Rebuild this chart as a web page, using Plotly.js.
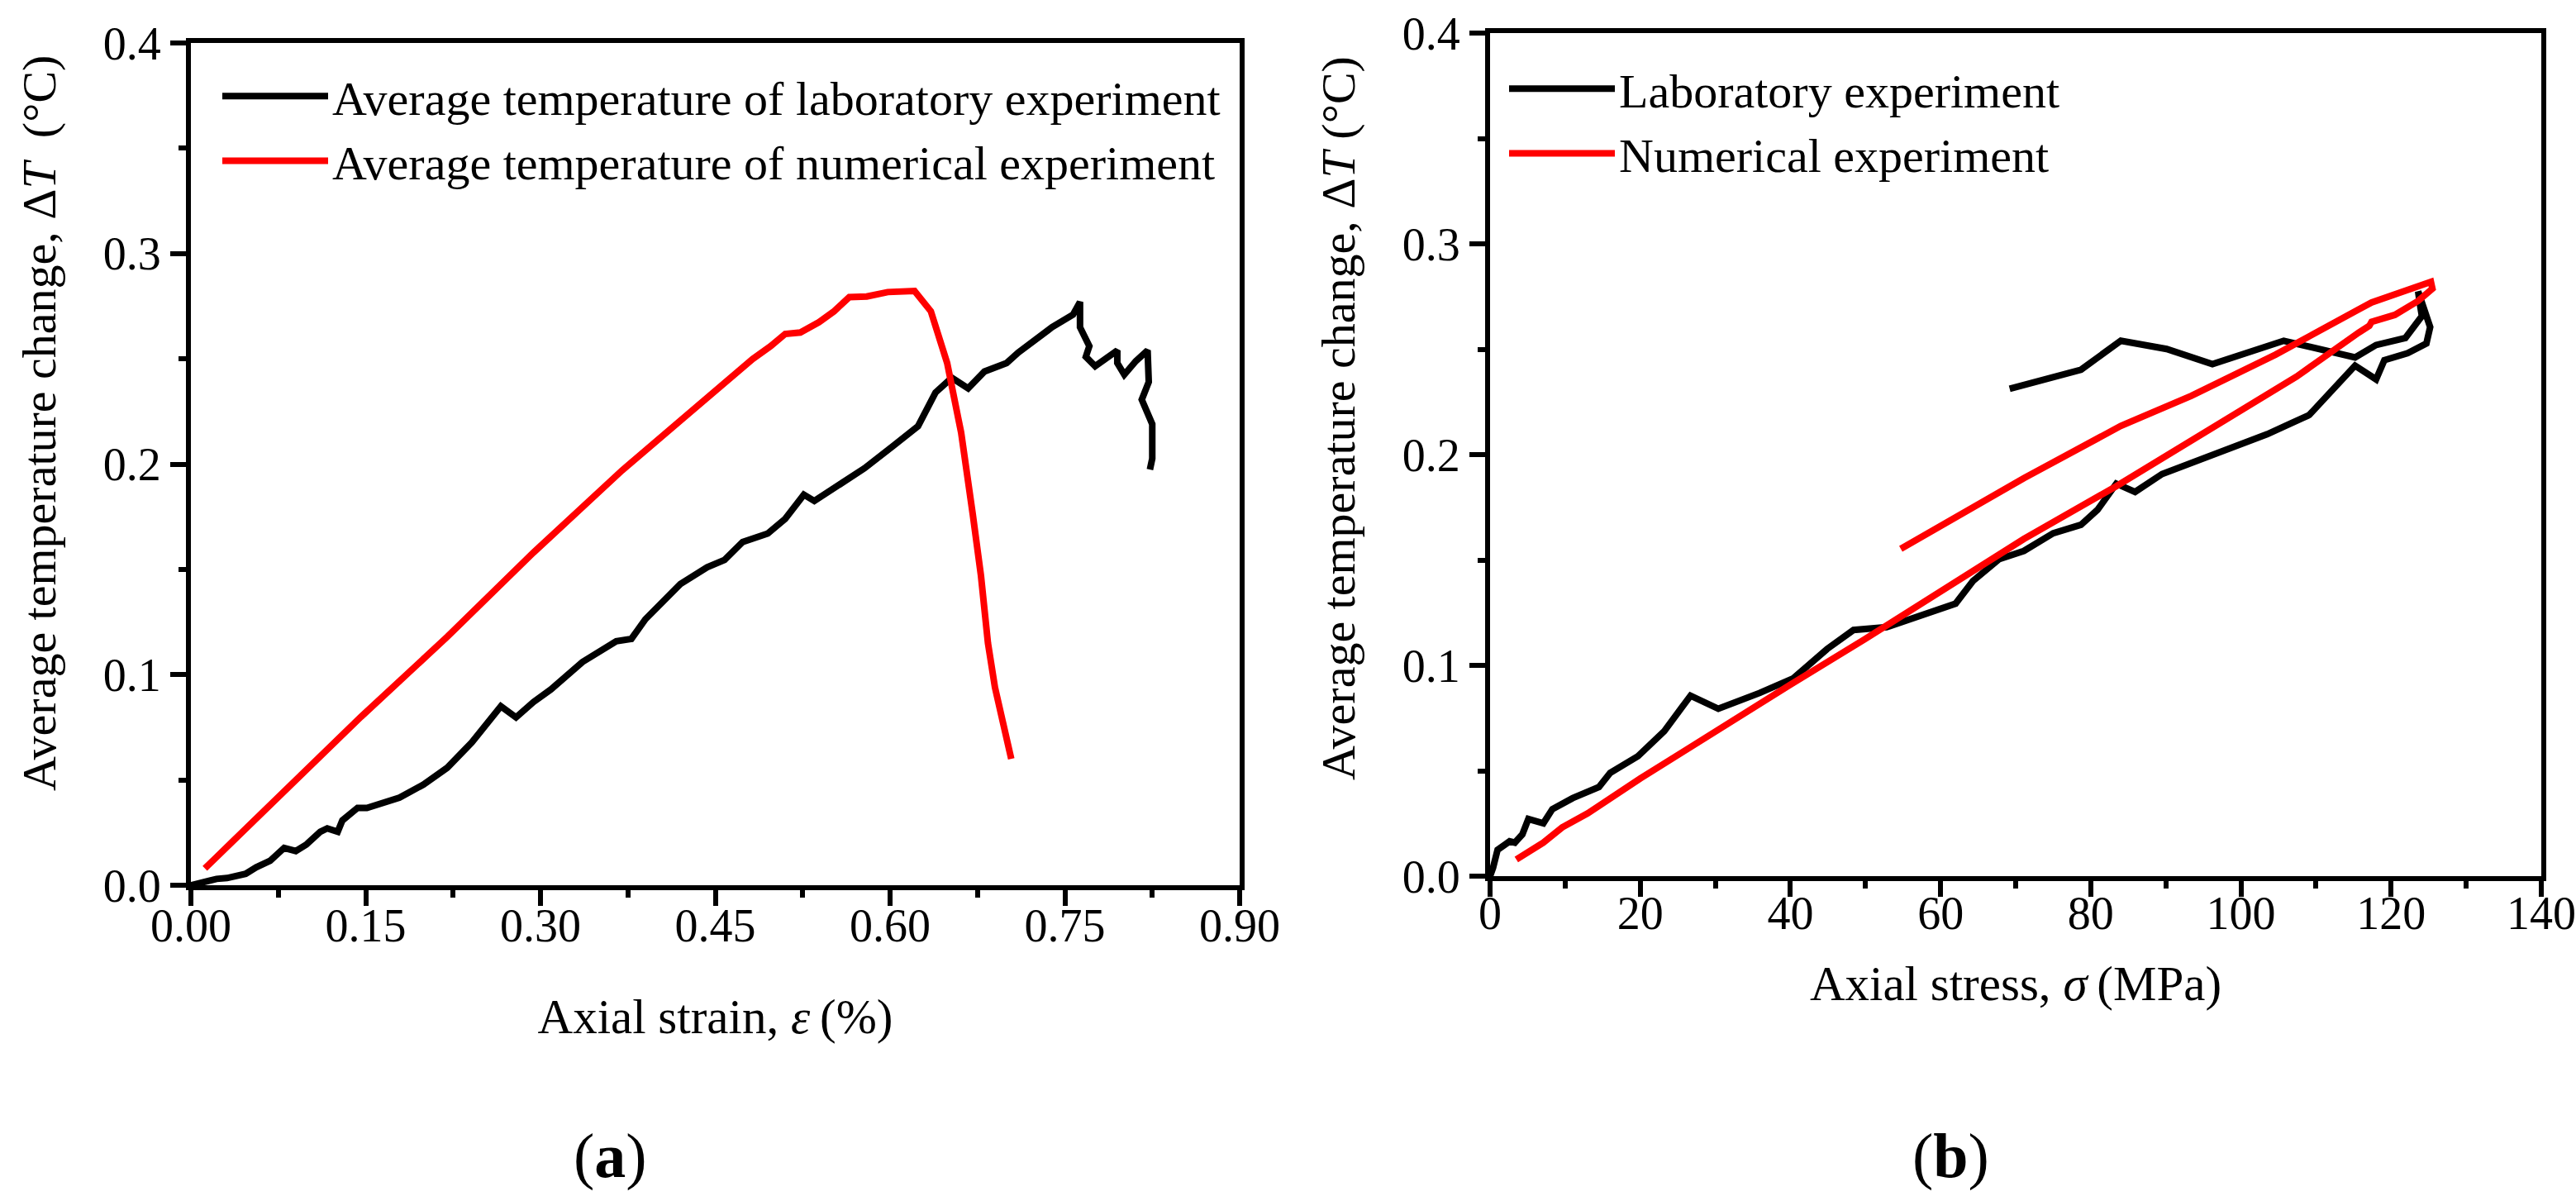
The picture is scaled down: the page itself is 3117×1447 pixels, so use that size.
<!DOCTYPE html>
<html>
<head>
<meta charset="utf-8">
<script src="https://cdn.plot.ly/plotly-3.0.1.min.js"></script>
<style>
  html, body { margin: 0; padding: 0; background: #fff; }
  #chart { width: 3117px; height: 1447px; }
</style>
</head>
<body>
<div id="chart"></div>
<script>
// (a) temperature change vs axial strain
const labStrain = [0, 0.022, 0.031, 0.047, 0.056, 0.068, 0.080, 0.090, 0.099, 0.111, 0.117, 0.126, 0.130, 0.143, 0.151,
  0.179, 0.1995, 0.220, 0.241, 0.266, 0.279, 0.294, 0.309, 0.336, 0.365, 0.378, 0.390, 0.420, 0.443, 0.458, 0.4735,
  0.495, 0.510, 0.526, 0.535, 0.557, 0.578, 0.603, 0.624, 0.639, 0.653, 0.667, 0.681, 0.700, 0.710, 0.739, 0.757,
  0.763, 0.763, 0.771, 0.768, 0.776, 0.788, 0.795, 0.795, 0.801, 0.811, 0.821, 0.822, 0.816, 0.825, 0.825, 0.823];
const labTempA = [0, 0.003, 0.0034, 0.0054, 0.0085, 0.0116, 0.0177, 0.0162, 0.0193, 0.0254, 0.027, 0.0254, 0.0308, 0.0367, 0.0367,
  0.0416, 0.0478, 0.0558, 0.0678, 0.085, 0.0797, 0.087, 0.093, 0.106, 0.1159, 0.117, 0.1263, 0.143, 0.151, 0.1545, 0.163,
  0.167, 0.174, 0.1855, 0.1825, 0.190, 0.198, 0.2088, 0.218, 0.234, 0.241, 0.236, 0.244, 0.248, 0.253, 0.265, 0.271,
  0.277, 0.265, 0.256, 0.251, 0.2465, 0.251, 0.254, 0.248, 0.2425, 0.249, 0.254, 0.239, 0.2306, 0.219, 0.2026, 0.1974];

const numStrain = [0.012, 0.070, 0.146, 0.220, 0.294, 0.370, 0.443, 0.4636, 0.482, 0.4975, 0.510, 0.523, 0.539, 0.552,
  0.565, 0.580, 0.598, 0.621, 0.635, 0.649, 0.661, 0.671, 0.678, 0.684, 0.690, 0.697, 0.704];
const numTempA = [0.008, 0.0393, 0.080, 0.118, 0.158, 0.197, 0.2315, 0.242, 0.2499, 0.256, 0.2618, 0.2625, 0.2674, 0.2726,
  0.2793, 0.2796, 0.2817, 0.2822, 0.2726, 0.248, 0.2149, 0.176, 0.147, 0.115, 0.094, 0.077, 0.060];

// (b) temperature change vs axial stress
const labStress = [0, 0.4, 1.0, 2.6, 3.3, 4.3, 5.1, 7.1, 8.3, 11.0, 14.5, 16.0, 19.7, 23.2, 26.7, 30.4, 35.9, 40.4, 44.9,
  48.4, 52.8, 58.3, 62.0, 64.3, 67.8, 71.1, 75.0, 78.7, 80.9, 83.4, 85.9, 89.5, 94.6, 99.0, 103.5, 109.1, 112.4, 115.2,
  118.0, 119.1, 122.2, 124.7, 125.2, 124.4, 123.6, 123.8, 124.1, 121.9, 118.0, 115.2, 111.8, 107.4, 105.7, 96.2, 90.1,
  84.0, 78.7, 69.2];
const labTempB = [0, 0.004, 0.0125, 0.0165, 0.0159, 0.0198, 0.0271, 0.0251, 0.0318, 0.037, 0.0423, 0.049, 0.0569, 0.0688,
  0.0856, 0.0794, 0.0869, 0.0939, 0.1078, 0.1168, 0.1181, 0.1244, 0.1293, 0.140, 0.1504, 0.1543, 0.1627, 0.1667, 0.1738,
  0.1862, 0.1823, 0.1908, 0.1979, 0.2038, 0.2097, 0.2188, 0.2318, 0.2422, 0.2357, 0.2448, 0.2481, 0.2527, 0.2605, 0.2683,
  0.2774, 0.2722, 0.2657, 0.2553, 0.2520, 0.2461, 0.2487, 0.2520, 0.2540, 0.2429, 0.2501, 0.2540, 0.2403, 0.2312];

const numStress = [3.5, 7.1, 9.6, 13.0, 20.0, 30.0, 39.9, 49.9, 60.3, 71.1, 83.4, 93.4, 99.0, 107.4, 115.7, 117.1, 117.4,
  120.5, 123.6, 125.5, 125.3, 121.3, 117.4, 115.7, 104.6, 93.4, 84.0, 71.1, 54.7];
const numTempB = [0.0079, 0.0159, 0.0231, 0.0298, 0.0463, 0.0688, 0.0906, 0.1124, 0.1356, 0.160, 0.185, 0.207, 0.219, 0.237,
  0.2579, 0.2611, 0.263, 0.2663, 0.2729, 0.2787, 0.282, 0.2774, 0.2722, 0.2689, 0.2474, 0.2279, 0.2136, 0.1888, 0.1553];

const legendNamesA = ['Average temperature of laboratory experiment', 'Average temperature of numerical experiment'];
const legendNamesB = ['Laboratory experiment', 'Numerical experiment'];

const W = 3117, H = 1447;
const FONT = 'Liberation Serif';
const px = v => v / W;
const py = v => 1 - v / H;

const traces = [
  { x: labStrain, y: labTempA, mode: 'lines', name: legendNamesA[0], xaxis: 'x', yaxis: 'y', legend: 'legend',
    line: { color: '#000000', width: 8 } },
  { x: numStrain, y: numTempA, mode: 'lines', name: legendNamesA[1], xaxis: 'x', yaxis: 'y', legend: 'legend',
    line: { color: '#ff0000', width: 8 } },
  { x: labStress, y: labTempB, mode: 'lines', name: legendNamesB[0], xaxis: 'x2', yaxis: 'y2', legend: 'legend2',
    line: { color: '#000000', width: 8 } },
  { x: numStress, y: numTempB, mode: 'lines', name: legendNamesB[1], xaxis: 'x2', yaxis: 'y2', legend: 'legend2',
    line: { color: '#ff0000', width: 8 } }
];

function axisBase() {
  return {
    showgrid: false,
    zeroline: false,
    showline: true,
    linecolor: '#000',
    linewidth: 6,
    mirror: true,
    ticks: 'outside',
    ticklen: 19,
    tickwidth: 6,
    tickcolor: '#000',
    tickfont: { family: FONT, size: 56, color: '#000' },
    minor: { ticks: 'outside', ticklen: 9, tickwidth: 6, tickcolor: '#000' }
  };
}

const legendBase = {
  bgcolor: 'rgba(0,0,0,0)',
  borderwidth: 0,
  font: { family: FONT, size: 58, color: '#000' },
  xanchor: 'left',
  yanchor: 'top',
  itemwidth: 128,
  tracegroupgap: 0
};

// y titles placed as rotated annotations so they sit where the reference has them
function yTitle(text, x, y) {
  return { text: text, xref: 'paper', yref: 'paper', x: px(x), y: py(y), xanchor: 'center', yanchor: 'middle',
    textangle: -90, showarrow: false, font: { family: FONT, size: 58, color: '#000' } };
}

function panelTag(text, x) {
  return { text: text, xref: 'paper', yref: 'paper', x: px(x), y: py(1398), xanchor: 'center', yanchor: 'middle',
    showarrow: false, font: { family: FONT, size: 76, color: '#000' } };
}

const layout = {
  width: W,
  height: H,
  margin: { l: 0, r: 0, t: 0, b: 0 },
  paper_bgcolor: '#fff',
  plot_bgcolor: '#fff',
  font: { family: FONT, color: '#000' },
  xaxis: Object.assign(axisBase(), {
    domain: [px(231), px(1500)],
    anchor: 'y',
    range: [0, 0.9],
    dtick: 0.15,
    tickformat: '.2f',
    ticklabelstandoff: -24,
    minor: Object.assign(axisBase().minor, { dtick: 0.075 }),
    title: { text: 'Axial strain, <i>ε</i>\u2009(%)', font: { family: FONT, size: 59 }, standoff: 60 }
  }),
  yaxis: Object.assign(axisBase(), {
    domain: [py(1071), py(52)],
    anchor: 'x',
    range: [0, 0.4],
    dtick: 0.1,
    tickformat: '.1f',
    minor: Object.assign(axisBase().minor, { dtick: 0.05 })
  }),
  xaxis2: Object.assign(axisBase(), {
    domain: [px(1803), px(3075)],
    anchor: 'y2',
    range: [0, 140],
    dtick: 20,
    ticklabelstandoff: -28,
    minor: Object.assign(axisBase().minor, { dtick: 10 }),
    title: { text: 'Axial stress, <i>σ</i>\u2009(MPa)', font: { family: FONT, size: 59 }, standoff: 35 }
  }),
  yaxis2: Object.assign(axisBase(), {
    domain: [py(1060), py(40)],
    anchor: 'x2',
    range: [0, 0.4],
    dtick: 0.1,
    tickformat: '.1f',
    minor: Object.assign(axisBase().minor, { dtick: 0.05 })
  }),
  legend: Object.assign({}, legendBase, { x: px(264), y: py(72) }),
  legend2: Object.assign({}, legendBase, { x: px(1821), y: py(63) }),
  showlegend: true,
  annotations: [
    yTitle('Average temperature change, Δ<i>T</i>\u00a0\u00a0(°C)', 48, 512),
    yTitle('Average temperature change, Δ<i>T</i> (°C)', 1620, 506),
    panelTag('(<b>a</b>)', 738),
    panelTag('(<b>b</b>)', 2360)
  ]
};

Plotly.newPlot('chart', traces, layout, { displayModeBar: false, staticPlot: true });
</script>
</body>
</html>
